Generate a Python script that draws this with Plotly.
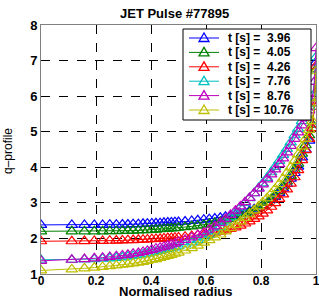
import plotly.graph_objects as go

radius = [0, .112, .158, .194, .224, .25, .274, .296, .316, .335, .354, .371, .387, .403, .418, .433,
          .447, .461, .474, .487, .5, .524, .548, .570, .592, .612, .632, .652, .671, .689, .707, .725,
          .742, .758, .775, .791, .806, .822, .837, .851, .866, .880, .894, .908, .922, .935, .949, .962,
          .975, .987, .994, 1.0]

q_396 = [2.38, 2.38, 2.38, 2.38, 2.38, 2.385, 2.385, 2.39, 2.39, 2.40, 2.40, 2.41, 2.415, 2.42, 2.425, 2.43,
         2.44, 2.445, 2.45, 2.455, 2.46, 2.475, 2.49, 2.51, 2.525, 2.54, 2.56, 2.58, 2.61, 2.635, 2.66, 2.69,
         2.73, 2.77, 2.82, 2.87, 2.93, 3.0, 3.08, 3.17, 3.28, 3.4, 3.53, 3.68, 3.84, 4.02, 4.28, 4.5,
         4.75, 5.1, 5.8, 6.95]
q_405 = [2.2, 2.2, 2.2, 2.2, 2.2, 2.205, 2.205, 2.21, 2.215, 2.22, 2.225, 2.23, 2.235, 2.24, 2.25, 2.26,
         2.265, 2.275, 2.285, 2.29, 2.3, 2.32, 2.34, 2.36, 2.385, 2.41, 2.44, 2.47, 2.51, 2.55, 2.59, 2.63,
         2.68, 2.73, 2.79, 2.85, 2.92, 3.0, 3.1, 3.2, 3.33, 3.46, 3.6, 3.76, 3.93, 4.1, 4.38, 4.62,
         4.9, 5.2, 5.8, 6.75]
q_426 = [1.92, 1.92, 1.925, 1.93, 1.93, 1.935, 1.94, 1.945, 1.95, 1.955, 1.96, 1.965, 1.97, 1.98, 1.985, 1.99,
         2.0, 2.01, 2.015, 2.02, 2.03, 2.05, 2.07, 2.09, 2.11, 2.13, 2.16, 2.19, 2.23, 2.27, 2.31, 2.36,
         2.42, 2.48, 2.55, 2.62, 2.7, 2.79, 2.89, 2.99, 3.11, 3.24, 3.38, 3.54, 3.72, 3.92, 4.2, 4.48,
         4.8, 5.1, 5.7, 6.85]
q_776 = [1.4, 1.4, 1.41, 1.42, 1.43, 1.44, 1.455, 1.47, 1.49, 1.51, 1.53, 1.55, 1.575, 1.6, 1.625, 1.65,
         1.675, 1.7, 1.725, 1.75, 1.78, 1.83, 1.89, 1.95, 2.02, 2.1, 2.2, 2.32, 2.45, 2.59, 2.73, 2.87,
         3.0, 3.13, 3.27, 3.41, 3.55, 3.7, 3.86, 4.01, 4.18, 4.35, 4.52, 4.7, 4.9, 5.08, 5.3, 5.5,
         5.7, 6.0, 6.4, 7.1]
q_876 = [1.37, 1.4, 1.42, 1.44, 1.46, 1.48, 1.5, 1.52, 1.54, 1.57, 1.59, 1.62, 1.65, 1.68, 1.71, 1.74,
         1.77, 1.8, 1.83, 1.86, 1.9, 1.96, 2.03, 2.1, 2.17, 2.25, 2.34, 2.44, 2.55, 2.66, 2.78, 2.9,
         3.02, 3.14, 3.27, 3.4, 3.52, 3.66, 3.8, 3.94, 4.09, 4.25, 4.42, 4.6, 4.8, 4.98, 5.18, 5.38,
         5.6, 5.9, 6.4, 7.35]
q_1076 = [1.1, 1.13, 1.16, 1.18, 1.2, 1.22, 1.24, 1.26, 1.28, 1.3, 1.32, 1.34, 1.37, 1.4, 1.42, 1.45,
          1.48, 1.51, 1.54, 1.57, 1.6, 1.66, 1.73, 1.8, 1.88, 1.95, 2.03, 2.11, 2.2, 2.29, 2.38, 2.48,
          2.58, 2.68, 2.79, 2.9, 3.01, 3.13, 3.26, 3.39, 3.53, 3.68, 3.84, 4.0, 4.18, 4.36, 4.58, 4.8,
          5.05, 5.3, 5.8, 6.7]

times = ["3.96", "4.05", "4.26", "7.76", "8.76", "10.76"]
series = [q_396, q_405, q_426, q_776, q_876, q_1076]
colors = ["#0000FF", "#008000", "#FF0000", "#00BFBF", "#BF00BF", "#BFBF00"]

x_ticks = [0, 0.2, 0.4, 0.6, 0.8, 1]
x_tick_labels = ["0", "0.2", "0.4", "0.6", "0.8", "1"]
y_ticks = [1, 2, 3, 4, 5, 6, 7, 8]

FONT = "Liberation Sans"
W, H = 319, 300
L, R, T, B = 41, 3, 25, 26
PW, PH = W - L - R, H - T - B


def px_x(px):
    return (px - L) / PW


def px_y(py):
    return (H - B - py) / PH


fig = go.Figure()
for t, q, c in zip(times, series, colors):
    fig.add_trace(go.Scatter(
        x=radius, y=q, mode="lines+markers", showlegend=False,
        line=dict(color=c, width=1),
        marker=dict(symbol="triangle-up-open", size=10, color=c, line=dict(width=1.2, color=c)),
    ))

# custom legend (compact rows like the original)
shapes = [dict(type="rect", xref="paper", yref="paper",
               x0=px_x(183), x1=px_x(311), y0=px_y(120), y1=px_y(29),
               line=dict(color="black", width=1), fillcolor="white", layer="above")]
annotations = []
row_top, row_gap = 38, 14.4
for i, (t, c) in enumerate(zip(times, colors)):
    cy = row_top + i * row_gap
    shapes.append(dict(type="line", xref="paper", yref="paper",
                       x0=px_x(189), x1=px_x(219), y0=px_y(cy), y1=px_y(cy),
                       line=dict(color=c, width=1), layer="above"))
    cx = 204
    path = (f"M {px_x(cx - 5)} {px_y(cy + 3.5)} L {px_x(cx)} {px_y(cy - 5)} "
            f"L {px_x(cx + 5)} {px_y(cy + 3.5)} Z")
    shapes.append(dict(type="path", xref="paper", yref="paper", path=path,
                       line=dict(color=c, width=1.3), layer="above"))
    pad = "\u00a0" * (2 if len(t) == 4 else 1)
    annotations.append(dict(text=f"<b>t [s] ={pad}{t}</b>", xref="paper", yref="paper",
                            x=px_x(226), y=px_y(cy), xanchor="left", yanchor="middle",
                            showarrow=False, font=dict(family=FONT, size=12, color="black")))

annotations += [
    dict(text="<b>JET Pulse #77895</b>", xref="paper", yref="paper", x=px_x(174), y=px_y(13),
         xanchor="center", yanchor="middle", showarrow=False,
         font=dict(family=FONT, size=13, color="black")),
    dict(text="<b>Normalised radius</b>", xref="paper", yref="paper", x=px_x(175), y=px_y(300),
         xanchor="center", yanchor="bottom", showarrow=False, borderpad=0,
         font=dict(family=FONT, size=13, color="black")),
    dict(text="q\u2013profile", xref="paper", yref="paper", x=px_x(8), y=px_y(151),
         xanchor="center", yanchor="middle", textangle=-90, showarrow=False,
         font=dict(family=FONT, size=12, color="black")),
]

axis_common = dict(
    showgrid=True, gridcolor="black", griddash="dash", gridwidth=1,
    showline=True, linecolor="#808080", linewidth=1, mirror=True,
    zeroline=False, ticks="", automargin=False, ticklabeloverflow="allow",
)

fig.update_layout(
    width=W, height=H,
    margin=dict(l=L, r=R, t=T, b=B, autoexpand=False),
    paper_bgcolor="white", plot_bgcolor="white",
    xaxis=dict(range=[0, 1], tickvals=x_ticks, ticktext=[f"<b>{s}</b>" for s in x_tick_labels],
               tickfont=dict(family=FONT, size=12, color="black"), ticklabelstandoff=-4,
               **axis_common),
    yaxis=dict(range=[1, 8], tickvals=y_ticks, ticktext=[f"<b>{v}</b>" for v in y_ticks],
               tickfont=dict(family=FONT, size=13, color="black"), **axis_common),
    showlegend=False,
    shapes=shapes,
    annotations=annotations,
)

fig.write_html("out.html", config={"displayModeBar": False},
               post_script="document.body.style.margin='0';document.body.style.overflow='hidden';")
